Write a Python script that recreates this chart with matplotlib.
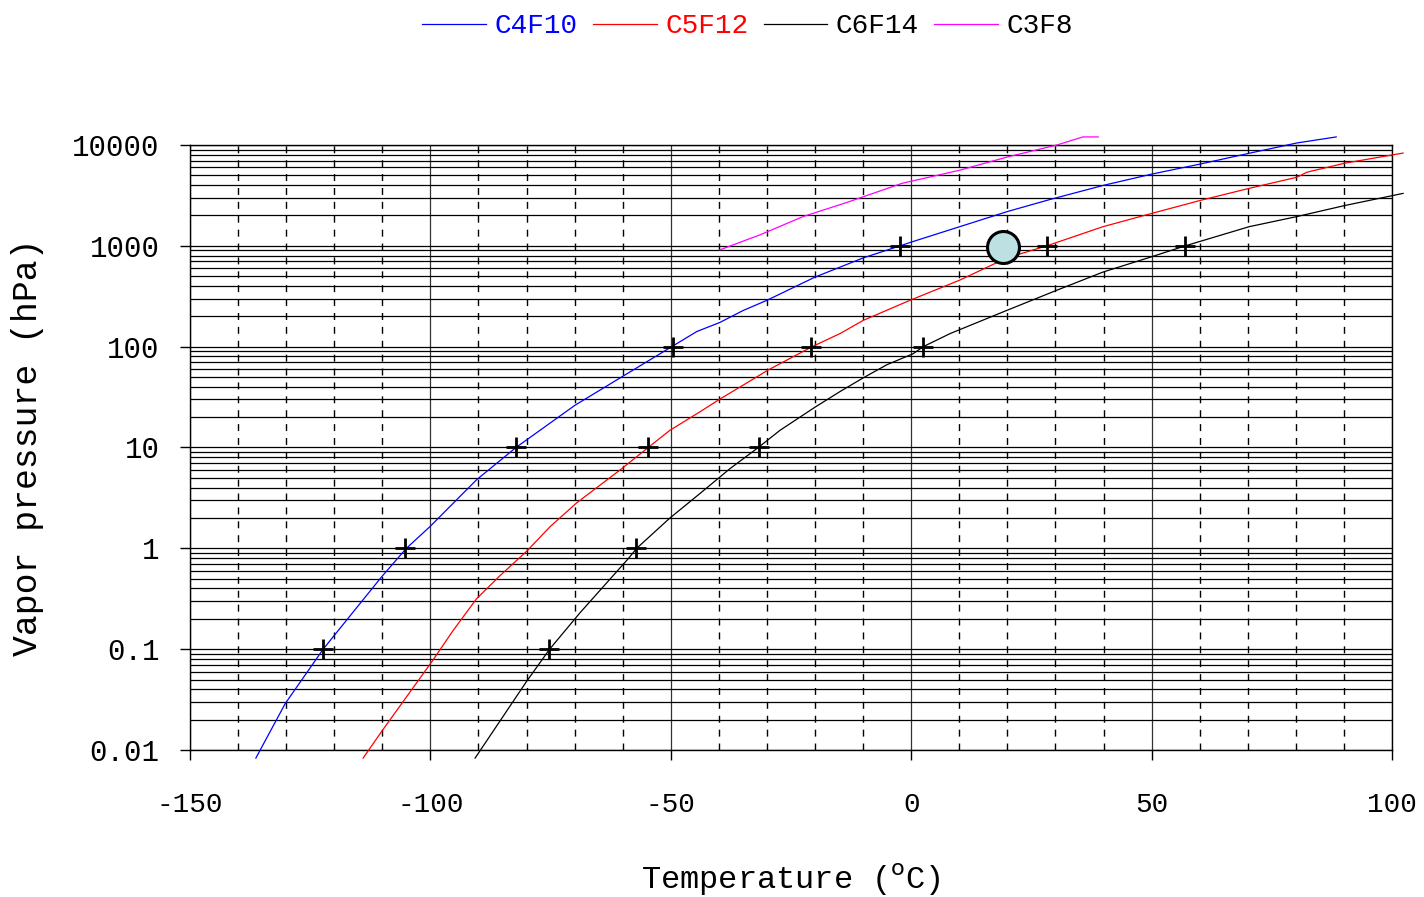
import numpy as np
import matplotlib.pyplot as plt
from matplotlib.ticker import MultipleLocator, LogLocator, NullFormatter

# vapour pressure curves (temperature degC, log10 of pressure in hPa)
c4f10_t = [-136.3, -130.2, -122.3, -115.7, -110.1, -105.0, -100.1, -90.4, -82.2, -69.9,
           -60.2, -49.8, -44.6, -39.8, -34.9, -30.0, -20.0, -10.0, -2.3, 0.2, 10.1, 20.0,
           28.9, 40.0, 49.9, 60.0, 70.5, 80.2, 88.4]
c4f10_logp = [-2.08, -1.54, -1.0, -0.61, -0.28, 0.0, 0.215, 0.68, 1.0, 1.42,
              1.70, 2.0, 2.15, 2.24, 2.36, 2.46, 2.69, 2.88, 3.0, 3.04, 3.19, 3.34,
              3.46, 3.60, 3.71, 3.81, 3.92, 4.02, 4.08]

c5f12_t = [-114.0, -109.9, -99.7, -95.2, -90.4, -85.5, -80.0, -75.1, -69.6, -60.2, -54.7,
           -50.2, -43.9, -39.8, -35.6, -29.7, -20.6, -14.8, -10.0, -0.25, 10.1, 19.9, 28.2,
           39.9, 49.9, 60.1, 70.3, 80.2, 82.3, 90.2, 102.3]
c5f12_logp = [-2.08, -1.80, -1.124, -0.81, -0.50, -0.27, -0.03, 0.215, 0.45, 0.79, 1.0,
              1.17, 1.355, 1.48, 1.60, 1.77, 2.0, 2.13, 2.26, 2.46, 2.66, 2.88, 3.0,
              3.19, 3.32, 3.45, 3.57, 3.68, 3.73, 3.82, 3.92]

c6f14_t = [-90.7, -80.0, -75.2, -68.9, -58.8, -57.1, -50.2, -43.9, -37.7, -31.8, -27.3,
           -20.0, -14.8, -10.0, -5.1, 0.4, 2.5, 8.1, 19.9, 30.3, 39.9, 49.9, 57.0,
           70.3, 80.2, 90.2, 102.3]
c6f14_logp = [-2.08, -1.32, -1.0, -0.64, -0.10, 0.0, 0.30, 0.545, 0.79, 1.0, 1.17,
              1.40, 1.555, 1.69, 1.82, 1.93, 2.0, 2.13, 2.36, 2.56, 2.74, 2.89, 3.0,
              3.19, 3.29, 3.40, 3.52]

c3f8_t = [-39.8, -31.4, -22.5, -13.4, -1.9, 10.1, 19.9, 30.3, 35.7, 38.9]
c3f8_logp = [2.96, 3.11, 3.29, 3.43, 3.62, 3.75, 3.88, 4.0, 4.08, 4.08]

# marked points (+) on each curve
cross_t = [-122.3, -105.3, -82.2, -49.5, -2.3,
           -54.7, -20.8, 28.2,
           -75.3, -57.2, -31.7, 2.5, 57.0]
cross_p = [0.1, 1, 10, 100, 1000,
           10, 100, 1000,
           0.1, 1, 10, 100, 1000]

# operating point
op_t = [19.1]
op_p = [973]

mono = 'Liberation Mono'

fig = plt.figure(figsize=(14.24, 8.97), dpi=100)
ax = fig.add_axes([190 / 1424, 1 - 750 / 897, (1392 - 190) / 1424, (750 - 145) / 897])

ax.set_yscale('log')
ax.set_xlim(-150, 100)
ax.set_ylim(0.01, 10000)

curves = [
    (c4f10_t, c4f10_logp, 'blue', 'C4F10'),
    (c5f12_t, c5f12_logp, 'red', 'C5F12'),
    (c6f14_t, c6f14_logp, 'black', 'C6F14'),
    (c3f8_t, c3f8_logp, 'magenta', 'C3F8'),
]
for t, lp, col, name in curves:
    ax.plot(t, 10 ** np.array(lp), color=col, lw=0.9, label=name, clip_on=False, zorder=3)

ax.plot(cross_t, cross_p, linestyle='none', marker='+', color='black',
        markersize=15, markeredgewidth=2, zorder=4)
ax.plot(op_t, op_p, linestyle='none', marker='o', markersize=23,
        markerfacecolor='#bde0e3', markeredgecolor='black', markeredgewidth=2.2, zorder=5)

# grid
ax.xaxis.set_major_locator(MultipleLocator(50))
ax.xaxis.set_minor_locator(MultipleLocator(10))
ax.yaxis.set_major_locator(LogLocator(base=10, numticks=20))
ax.yaxis.set_minor_locator(LogLocator(base=10, subs=np.arange(2, 10), numticks=20))
ax.yaxis.set_minor_formatter(NullFormatter())
ax.grid(which='major', axis='x', color='#333333', lw=0.9, linestyle='-')
ax.grid(which='minor', axis='x', color='black', lw=1.0, linestyle=(0, (5, 5)))
ax.grid(which='both', axis='y', color='black', lw=0.9, linestyle='-')
ax.set_axisbelow(True)

ylabels = ['0.01', '0.1', '1', '10', '100', '1000', '10000']
ax.set_yticks([0.01, 0.1, 1, 10, 100, 1000, 10000])
ax.set_yticklabels(ylabels, fontfamily=mono, fontsize=21)
ax.set_xticks([-150, -100, -50, 0, 50, 100])
ax.set_xticklabels(['-150', '-100', '-50', '0', '50', '100'], fontfamily=mono, fontsize=20)

ax.tick_params(axis='y', which='major', direction='out', length=7, width=1, pad=15)
ax.tick_params(axis='x', which='major', direction='out', length=7, width=1, pad=23)
ax.tick_params(which='minor', length=0)

for s in ax.spines.values():
    s.set_color('black')
    s.set_linewidth(1.0)

ax.set_xlabel('Temperature ($^{\\rm o}$C)', fontfamily=mono, fontsize=23, labelpad=32)
ax.set_ylabel('Vapor pressure (hPa)', fontfamily=mono, fontsize=25, labelpad=20)

handles, labels = ax.get_legend_handles_labels()
fig.legend(handles, labels, loc='upper center', bbox_to_anchor=(0.525, 1.013), ncol=4,
           frameon=False, prop={'family': mono, 'size': 20},
           labelcolor=['blue', 'red', 'black', 'black'],
           handlelength=2.3, handletextpad=0.3, columnspacing=0.55)

fig.savefig('out.png', dpi=100)
